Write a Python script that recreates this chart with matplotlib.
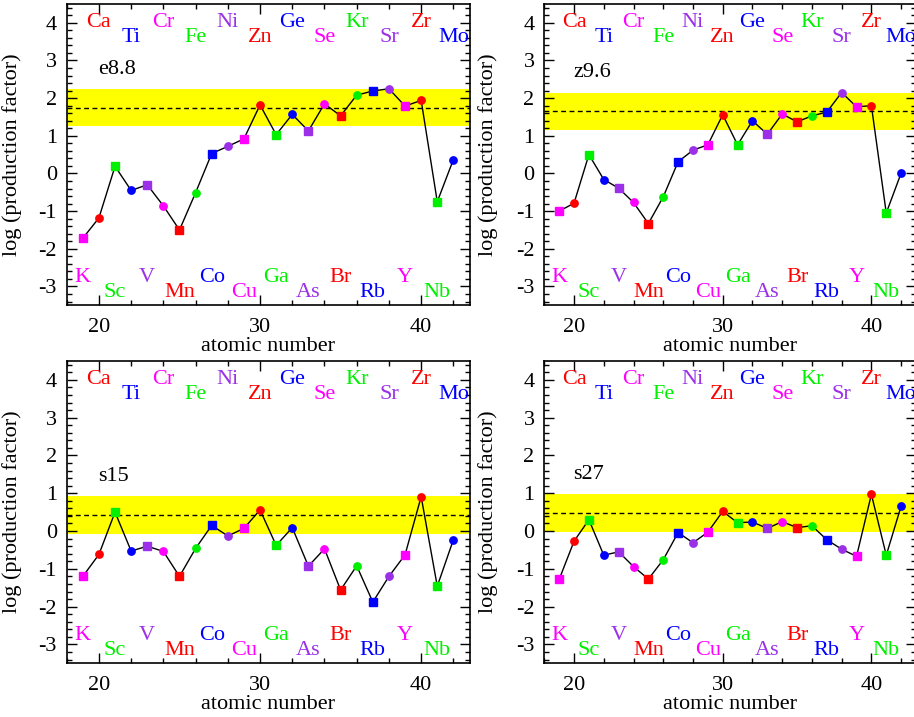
import numpy as np
import matplotlib
matplotlib.use("Agg")
import matplotlib.pyplot as plt
from matplotlib.ticker import MultipleLocator

plt.rcParams["font.family"] = ["Liberation Serif", "DejaVu Serif"]
plt.rcParams["axes.unicode_minus"] = False

# ---------- data ----------
Z = list(range(19, 43))
symbols = ["K", "Ca", "Sc", "Ti", "V", "Cr", "Mn", "Fe", "Co", "Ni", "Cu", "Zn",
           "Ga", "Ge", "As", "Se", "Br", "Kr", "Rb", "Sr", "Y", "Zr", "Nb", "Mo"]

e88 = [-1.72, -1.18, 0.19, -0.45, -0.30, -0.86, -1.50, -0.51, 0.53, 0.72, 0.92, 1.82,
       1.03, 1.57, 1.13, 1.85, 1.53, 2.08, 2.19, 2.25, 1.79, 1.94, -0.75, 0.37]
z96 = [-1.00, -0.79, 0.50, -0.16, -0.39, -0.77, -1.33, -0.62, 0.31, 0.62, 0.76, 1.56,
       0.76, 1.40, 1.04, 1.58, 1.37, 1.53, 1.63, 2.15, 1.77, 1.80, -1.05, 0.01]
s15 = [-1.20, -0.62, 0.50, -0.53, -0.40, -0.54, -1.20, -0.46, 0.15, -0.13, 0.07, 0.56,
       -0.38, 0.09, -0.93, -0.47, -1.56, -0.92, -1.88, -1.20, -0.63, 0.91, -1.46, -0.23]
s27 = [-1.28, -0.27, 0.30, -0.64, -0.55, -0.94, -1.27, -0.76, -0.04, -0.31, -0.03, 0.52,
       0.22, 0.24, 0.07, 0.25, 0.09, 0.14, -0.23, -0.48, -0.67, 0.97, -0.64, 0.66]

models = ["e8.8", "z9.6", "s15", "s27"]
values = [e88, z96, s15, s27]
means = [1.75, 1.65, 0.43, 0.48]
band_half = 0.5
label_y = [2.63, 2.55, 1.32, 1.39]

palette = ["#ff00ff", "#ff0000", "#00f000", "#0000ff", "#9b30e8"]

# axes rectangles in figure pixels: left, top, right, bottom
W, H = 914, 717
rects = [(66.7, 4, 469.5, 305.3), (544.3, 4, 916.0, 305.3),
         (66.7, 361, 469.5, 663.3), (544.3, 361, 916.0, 663.3)]
ylabel_x = [21.7, 498.3]


def setup_axis(ax):
    ax.set_xlim(18, 43)
    ax.set_ylim(-3.5, 4.5)
    ax.xaxis.set_major_locator(MultipleLocator(10))
    ax.xaxis.set_minor_locator(MultipleLocator(2))
    ax.yaxis.set_major_locator(MultipleLocator(1))
    ax.yaxis.set_minor_locator(MultipleLocator(0.2))
    ax.tick_params(which="both", direction="in", top=True, right=True, width=1.0)
    ax.tick_params(which="major", length=7, labelsize=16, pad=7)
    ax.tick_params(which="minor", length=3.5)
    ax.tick_params(axis="x", which="major", pad=9)
    for s in ax.spines.values():
        s.set_linewidth(1.2)


fig = plt.figure(figsize=(W / 100, H / 100), dpi=100)

for i, (name, vals) in enumerate(zip(models, values)):
    l, t, r, b = rects[i]
    ax = fig.add_axes([l / W, 1 - b / H, (r - l) / W, (b - t) / H])
    setup_axis(ax)

    m = means[i]
    ax.axhspan(m - band_half, m + band_half, color="#ffff00", zorder=0, lw=0)
    ax.axhline(m, color="black", lw=1.0, ls=(0, (3.5, 2.5)), zorder=1)

    ax.plot(Z, vals, color="black", lw=1.0, zorder=2)
    for k, (z, v) in enumerate(zip(Z, vals)):
        c = palette[k % 5]
        mk = "s" if z % 2 == 1 else "o"
        ax.plot(z, v, marker=mk, ms=5.3, color=c, mec=c, ls="none", zorder=3)

    # element symbols
    for k, (z, sym) in enumerate(zip(Z, symbols)):
        c = palette[k % 5]
        if z % 2 == 0:
            y = 3.9 if z % 4 == 0 else 3.49
        else:
            y = -2.89 if z % 4 == 3 else -3.29
        ax.text(z, y, sym, color=c, fontsize=16, ha="center", va="baseline",
                clip_on=True, zorder=4)

    ax.text(19.95, label_y[i], name, fontsize=16, ha="left", va="baseline")

    ax.set_xlabel("atomic number", fontsize=16, labelpad=0)
    ax.set_ylabel("log (production factor)", fontsize=16)
    ax.yaxis.set_label_coords((ylabel_x[i % 2] - l) / (r - l), 0.5)

fig.savefig("out.png", dpi=100)
